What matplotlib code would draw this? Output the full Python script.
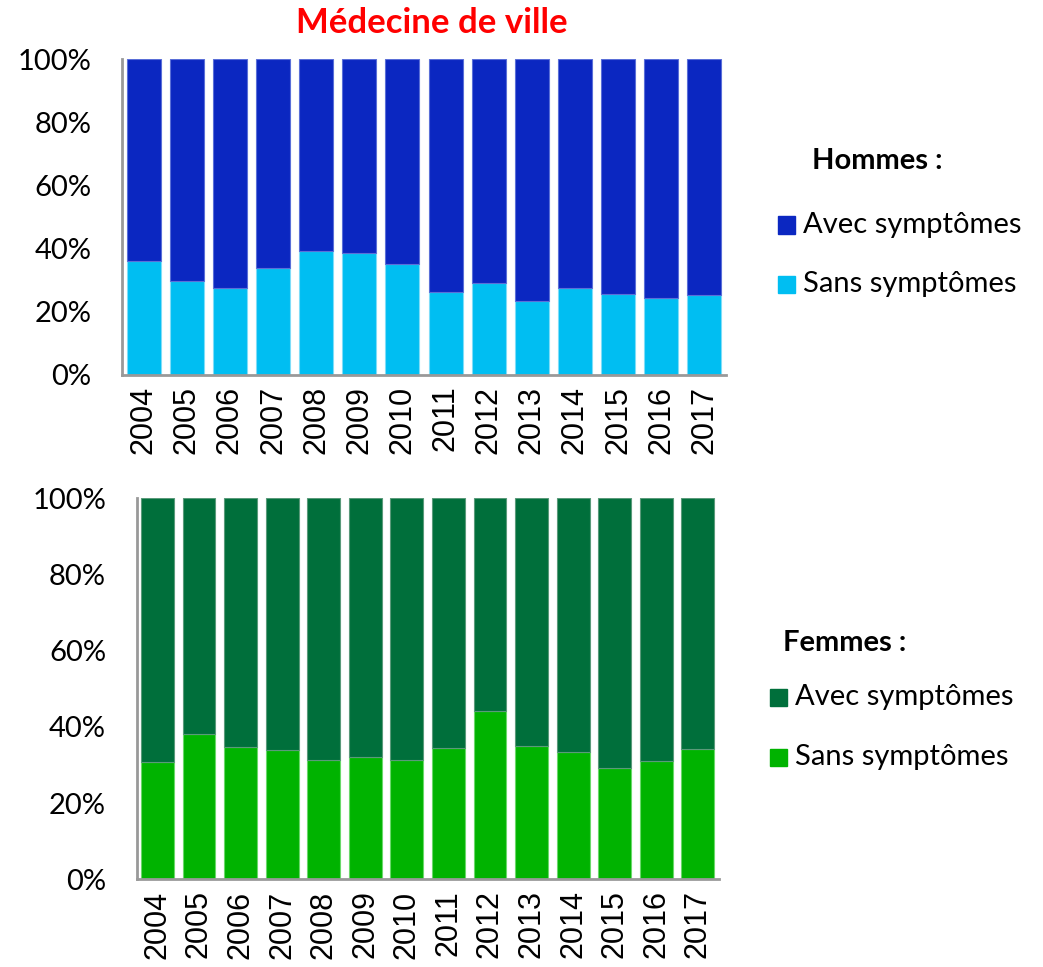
import matplotlib.pyplot as plt
import matplotlib.patches as mpatches
import numpy as np

plt.rcParams["font.family"] = ["Lato", "DejaVu Sans"]

years = [str(y) for y in range(2004, 2018)]

# share of cases without symptoms (%), the rest is "avec symptômes"
hommes_sans = [35.9, 29.6, 27.4, 33.7, 39.3, 38.7, 35.2, 26.3, 29.0, 23.4, 27.4, 25.5, 24.3, 25.3]
femmes_sans = [30.7, 38.1, 34.7, 33.9, 31.2, 32.0, 31.2, 34.4, 44.3, 35.1, 33.3, 29.3, 31.0, 34.1]

hommes_avec = [100 - v for v in hommes_sans]
femmes_avec = [100 - v for v in femmes_sans]

colors_h = {"avec": "#0B27C1", "sans": "#00BEF2"}
colors_f = {"avec": "#006F3B", "sans": "#00B300"}
edge_h = {"avec": "#5A6FD8", "sans": "#7FDDF8"}
edge_f = {"avec": "#5A9A7A", "sans": "#6AD86A"}

W, H = 1043, 967
fig = plt.figure(figsize=(W / 100, H / 100), dpi=100)
ax1 = fig.add_axes([0.117, 0.6127, 0.579, 0.326])
ax2 = fig.add_axes([0.131, 0.0907, 0.558, 0.3938])


def draw_panel(ax, sans, avec, colors, edges):
    x = np.arange(len(years))
    ax.bar(x, sans, width=0.79, color=colors["sans"], edgecolor=edges["sans"], linewidth=0.8)
    ax.bar(x, avec, width=0.79, bottom=sans, color=colors["avec"],
           edgecolor=edges["avec"], linewidth=0.8)
    ax.set_xlim(-0.5, len(years) - 0.5)
    ax.set_ylim(0, 100)
    ax.set_yticks([0, 20, 40, 60, 80, 100])
    ax.set_yticklabels([f"{v}%" for v in range(0, 101, 20)], fontsize=21)
    ax.set_xticks(x)
    ax.set_xticklabels(years, rotation=90, fontsize=22, family="Liberation Sans")
    ax.tick_params(axis="y", length=0, pad=22)
    ax.tick_params(axis="x", length=0, pad=8)
    for side in ["top", "right"]:
        ax.spines[side].set_visible(False)
    for side in ["left", "bottom"]:
        ax.spines[side].set_color("#999999")
        ax.spines[side].set_linewidth(2)


draw_panel(ax1, hommes_sans, hommes_avec, colors_h, edge_h)
draw_panel(ax2, femmes_sans, femmes_avec, colors_f, edge_f)

fig.text(432 / W, 1 - 23 / H, "Médecine de ville", color="#FF0000", fontsize=25,
         fontweight="bold", ha="center", va="center")


def add_key(title, colors, title_x, title_y, box_x, rows_y):
    fig.text(title_x / W, 1 - title_y / H, title, fontsize=21, fontweight="bold",
             ha="left", va="center")
    for key, label, y in zip(["avec", "sans"], ["Avec symptômes", "Sans symptômes"], rows_y):
        fig.patches.append(mpatches.Rectangle(
            (box_x / W, 1 - (y + 8.5) / H), 17 / W, 17 / H,
            transform=fig.transFigure, color=colors[key]))
        fig.text((box_x + 25) / W, 1 - y / H, label, fontsize=21, ha="left", va="center")


add_key("Hommes :", colors_h, 812, 161, 778, [225, 284])
add_key("Femmes :", colors_f, 783, 643, 770, [697, 757])

fig.savefig("out.png", dpi=100)
